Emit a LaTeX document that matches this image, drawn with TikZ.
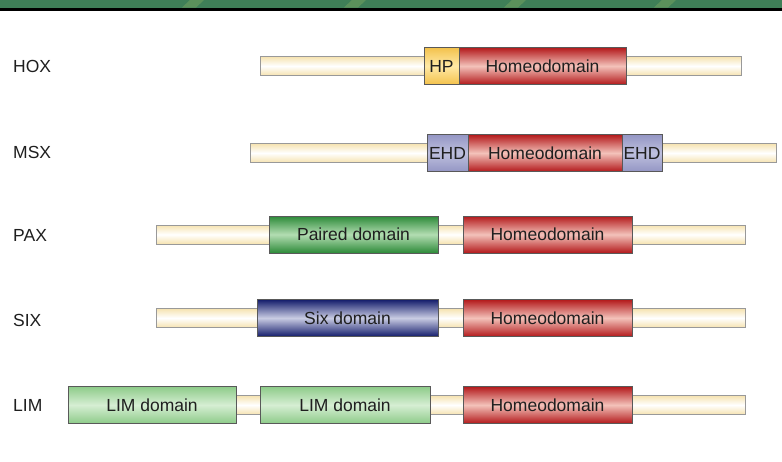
\documentclass[tikz,border=0pt]{standalone}
\usepackage{fontspec}
\setmainfont{Liberation Sans}
\begin{document}
\begin{tikzpicture}[x=1pt,y=-1pt,
  every node/.style={font=\fontsize{17.5}{20}\selectfont, text=black!88},
  rowlabel/.style={anchor=west, inner sep=0pt},
  chain/.style={draw=black!40, line width=0.8pt, inner sep=0pt, outer sep=0pt,
    minimum height=19pt, anchor=west,
    top color=cream, bottom color=cream, middle color=white},
  dom/.style={draw=black!65, line width=0.8pt, inner sep=0pt, outer sep=0pt,
    minimum height=37pt, anchor=west},
  homeo/.style={dom, top color=homeoedge, bottom color=homeoedge, middle color=homeomid},
  hp/.style={dom, top color=hpedge, bottom color=hpedge, middle color=hpmid},
  ehd/.style={dom, top color=ehdedge, bottom color=ehdedge, middle color=ehdmid},
  paired/.style={dom, top color=pairededge, bottom color=pairededge, middle color=pairedmid},
  sixdom/.style={dom, top color=sixedge, bottom color=sixedge, middle color=sixmid},
  lim/.style={dom, top color=limedge, bottom color=limedge, middle color=limmid},
]
\definecolor{cream}{HTML}{F6E3B0}
\definecolor{homeoedge}{HTML}{B3191B}
\definecolor{homeomid}{HTML}{F3C2BA}
\definecolor{hpedge}{HTML}{F3C24C}
\definecolor{hpmid}{HTML}{FFE9A6}
\definecolor{ehdedge}{HTML}{9496C4}
\definecolor{ehdmid}{HTML}{BEC0DE}
\definecolor{pairededge}{HTML}{2C8A38}
\definecolor{pairedmid}{HTML}{B3DDB2}
\definecolor{sixedge}{HTML}{131C6B}
\definecolor{sixmid}{HTML}{C9CCE3}
\definecolor{limedge}{HTML}{8DCB89}
\definecolor{limmid}{HTML}{D6EED3}
\definecolor{bandgreen}{HTML}{3F7F58}
\definecolor{streak}{HTML}{7FA860}

\useasboundingbox (0,0) rectangle (782,461);
\fill[white] (0,0) rectangle (782,461);

% header band
\fill[bandgreen] (0,0) rectangle (782,7.5);
\begin{scope}
  \clip (0,0) rectangle (782,7.5);
  \foreach \sx in {190,352,512,662}
    \fill[streak, opacity=0.45] (\sx,0) -- (\sx+14,0) -- (\sx+6,7.5) -- (\sx-8,7.5) -- cycle;
\end{scope}
\fill[black] (0,7.5) rectangle (782,11);

% HOX
\node[rowlabel] (hoxlab) at (13,66) {HOX};
\node[chain, minimum width=481pt] (hoxbar) at (260,66) {};
\node[hp, minimum width=35pt] (hoxhp) at (424,66) {HP};
\node[homeo, minimum width=167pt] (hoxhd) at (459,66) {Homeodomain};

% MSX
\node[rowlabel] (msxlab) at (13,152) {MSX};
\node[chain, minimum width=526pt] (msxbar) at (250,153) {};
\node[ehd, minimum width=41pt] (msxehda) at (427,153) {EHD};
\node[homeo, minimum width=154pt] (msxhd) at (468,153) {Homeodomain};
\node[ehd, minimum width=40pt] (msxehdb) at (622,153) {EHD};

% PAX
\node[rowlabel] (paxlab) at (13,235) {PAX};
\node[chain, minimum width=589pt] (paxbar) at (156,234.5) {};
\node[paired, minimum width=169pt] (paxpd) at (269,234.5) {Paired domain};
\node[homeo, minimum width=169pt] (paxhd) at (463,234.5) {Homeodomain};

% SIX
\node[rowlabel] (sixlab) at (13,320) {SIX};
\node[chain, minimum width=589pt] (sixbar) at (156,318) {};
\node[sixdom, minimum width=181pt] (sixsd) at (257,318) {Six domain};
\node[homeo, minimum width=169pt] (sixhd) at (463,318) {Homeodomain};

% LIM
\node[rowlabel] (limlab) at (13,405) {LIM};
\node[chain, minimum width=677pt] (limbar) at (68,405) {};
\node[lim, minimum width=168pt] (limdoma) at (68,405) {LIM domain};
\node[lim, minimum width=170pt] (limdomb) at (260,405) {LIM domain};
\node[homeo, minimum width=169pt] (limhd) at (463,405) {Homeodomain};
\end{tikzpicture}
\end{document}
